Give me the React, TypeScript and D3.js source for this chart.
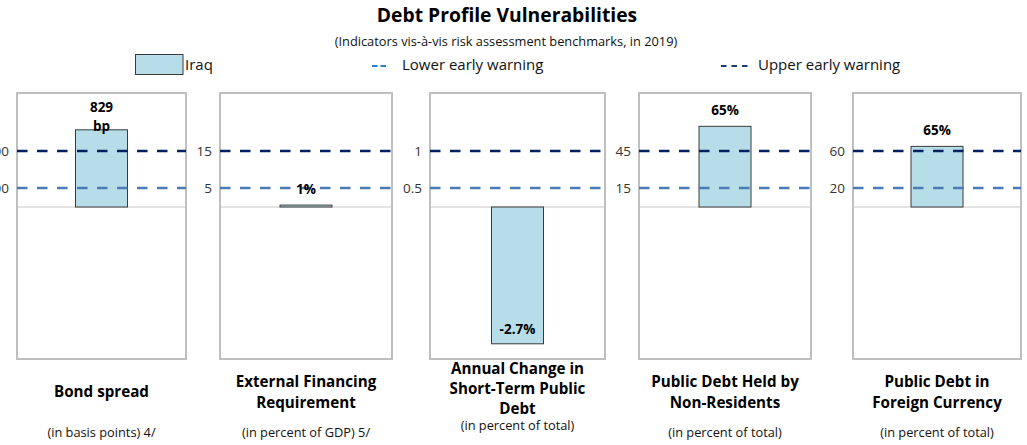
import React from "react";
import * as d3 from "d3";

// ---- data ----
const titleLines: string[][] = [
  ["Bond spread"],
  ["External Financing", "Requirement"],
  ["Annual Change in", "Short-Term Public", "Debt"],
  ["Public Debt Held by", "Non-Residents"],
  ["Public Debt in", "Foreign Currency"],
];
const unitLabels = [
  "(in basis points) 4/",
  "(in percent of GDP) 5/",
  "(in percent of total)",
  "(in percent of total)",
  "(in percent of total)",
];
const values = [829, 0.5, -2.7, 65, 65];
const valueLabels: string[][] = [["829", "bp"], ["1%"], ["-2.7%"], ["65%"], ["65%"]];
const lowerBench = [200, 5, 0.5, 15, 20];
const upperBench = [600, 15, 1, 45, 60];
const axisMin = [-1600, -40, -3, -120, -160];
const lowerTickLabels = ["200", "5", "0.5", "15", "20"];
const upperTickLabels = ["600", "15", "1", "45", "60"];

// ---- layout ----
const W = 1027;
const H = 445;
const panelLeft = [17, 220, 430, 639, 853];
const panelRight = [186, 392, 605, 811, 1021];
const panelTop = 93;
const panelBottom = 359;
const baseY = 207;
const lowY = 188;
const upY = 151;
const barW = 52;

const FONT = "'Open Sans', 'Noto Sans', sans-serif";
const BAR_FILL = "#b7dee8";
const BAR_STROKE = "#3a3a3a";
const UPPER_C = "#002060";
const LOWER_C = "#4a7bb7";

export default function App() {
  return (
    <svg
      width={W}
      height={H}
      style={{ position: "absolute", left: 0, top: 0, background: "#fff" }}
      fontFamily={FONT}
    >
      <text x={507} y={15} dy="0.35em" textAnchor="middle" fontWeight={700} fontSize={19.3} fill="#000">
        Debt Profile Vulnerabilities
      </text>
      <text x={506} y={42} dy="0.35em" textAnchor="middle" fontSize={12.8} fill="#111">
        (Indicators vis-à-vis risk assessment benchmarks, in 2019)
      </text>

      {/* legend */}
      <rect x={135.5} y={54.5} width={47.5} height={20} fill={BAR_FILL} stroke={BAR_STROKE} strokeWidth={1} />
      <text x={185} y={64.5} dy="0.35em" fontSize={15} fill="#111">Iraq</text>
      <line x1={372} x2={386} y1={66} y2={66} stroke="#2a7fd4" strokeWidth={2} strokeDasharray="5.5 3" />
      <text x={402} y={64.5} dy="0.35em" fontSize={15} fill="#111">Lower early warning</text>
      <line x1={721} x2={749} y1={66} y2={66} stroke="#1f3a70" strokeWidth={2} strokeDasharray="5.5 5" />
      <text x={758} y={64.5} dy="0.35em" fontSize={15} fill="#111">Upper early warning</text>

      {values.map((v, i) => {
        const left = panelLeft[i];
        const right = panelRight[i];
        const cx = (left + right) / 2;
        const y = d3
          .scaleLinear()
          .domain([axisMin[i], 0, lowerBench[i], upperBench[i]])
          .range([panelBottom, baseY, lowY, upY]);
        const y0 = y(0);
        const yv = y(v);
        const top = Math.min(y0, yv);
        const h = Math.abs(yv - y0);
        const labs = valueLabels[i];
        const n = labs.length;
        const tl = titleLines[i];
        const titleCenter = tl.length >= 3 ? 388.5 : 392;
        const lineH = tl.length >= 3 ? 20 : 20.8;
        const firstTitleY = titleCenter - ((tl.length - 1) * lineH) / 2;
        const unitY = tl.length >= 3 ? 426 : 433;
        return (
          <g key={i}>
            <rect
              x={left}
              y={panelTop}
              width={right - left}
              height={panelBottom - panelTop}
              fill="#fff"
              stroke="#bfbfbf"
              strokeWidth={2}
            />
            <line x1={left + 1} x2={right - 1} y1={y0} y2={y0} stroke="#c8c8c8" strokeWidth={1} />
            <rect
              x={cx - barW / 2}
              y={top}
              width={barW}
              height={h}
              fill={BAR_FILL}
              stroke={BAR_STROKE}
              strokeWidth={1}
            />
            <line
              x1={left}
              x2={right}
              y1={y(lowerBench[i])}
              y2={y(lowerBench[i])}
              stroke={LOWER_C}
              strokeWidth={2.6}
              strokeDasharray="10.5 9.5"
            />
            <line
              x1={left}
              x2={right}
              y1={y(upperBench[i])}
              y2={y(upperBench[i])}
              stroke={UPPER_C}
              strokeWidth={2.6}
              strokeDasharray="10.5 9.5"
            />
            <text x={left - 8} y={y(upperBench[i])} dy="0.35em" textAnchor="end" fontSize={13.5} fill="#333">
              {upperTickLabels[i]}
            </text>
            <text x={left - 8} y={y(lowerBench[i])} dy="0.35em" textAnchor="end" fontSize={13.5} fill="#333">
              {lowerTickLabels[i]}
            </text>
            {labs.map((s, k) => {
              const ly =
                v >= 0
                  ? yv - 16 + (n - 1) * 12 - (n - 1 - k) * 19
                  : yv - 15;
              return (
                <text key={k} x={cx} y={ly} dy="0.35em" textAnchor="middle" fontWeight={700} fontSize={13.5} fill="#000">
                  {s}
                </text>
              );
            })}
            {tl.map((s, k) => (
              <text
                key={k}
                x={cx}
                y={firstTitleY + k * lineH}
                dy="0.35em"
                textAnchor="middle"
                fontWeight={700}
                fontSize={15.2}
                fill="#000"
              >
                {s}
              </text>
            ))}
            <text x={cx} y={unitY} dy="0.35em" textAnchor="middle" fontSize={12.8} fill="#111">
              {unitLabels[i]}
            </text>
          </g>
        );
      })}
    </svg>
  );
}
